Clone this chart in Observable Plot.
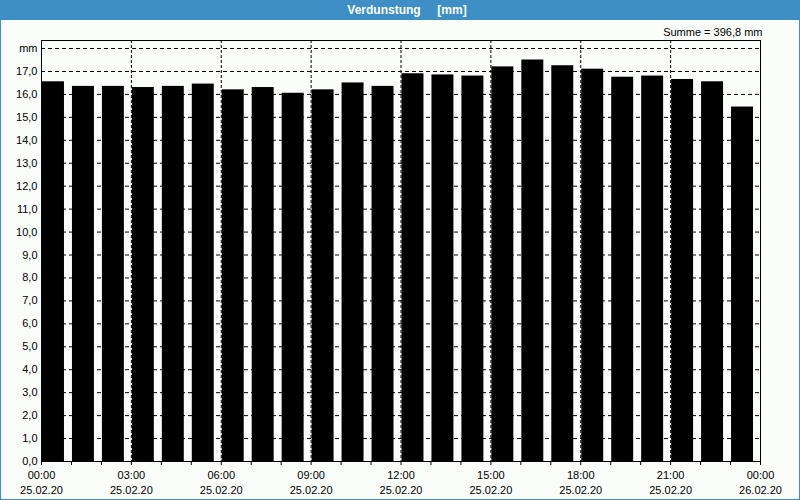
<!DOCTYPE html>
<html><head><meta charset="utf-8">
<script src="https://cdn.jsdelivr.net/npm/d3@7"></script>
<script src="https://cdn.jsdelivr.net/npm/@observablehq/plot@0.6"></script>
<style>
body{margin:0;background:#fff;}
#wrap{position:relative;width:800px;height:500px;box-sizing:border-box;border:1px solid #3d8fc6;border-top:none;background:#fafcfa;font-family:"Liberation Sans",Arial,sans-serif;}
#title{height:20px;background:#3d8fc6;color:#fff;font-weight:bold;font-size:12px;line-height:20px;text-align:center;margin:0 -1px;white-space:pre;padding-left:14px;box-sizing:border-box;}
#chart svg{display:block;}
</style></head>
<body><div id="wrap"><div id="title">Verdunstung     [mm]</div><div id="chart"></div></div>
<script>
const titleText = "Verdunstung     [mm]";
const sumText = "Summe = 396,8 mm";
const hours = [0,1,2,3,4,5,6,7,8,9,10,11,12,13,14,15,16,17,18,19,20,21,22,23];
const values = [16.55,16.35,16.35,16.3,16.35,16.45,16.2,16.3,16.05,16.2,16.5,16.35,16.9,16.85,16.8,17.2,17.5,17.25,17.1,16.75,16.8,16.65,16.55,15.45];
const xTickHours = [0,3,6,9,12,15,18,21,24];
const xTickLabels = ["00:00\n25.02.20","03:00\n25.02.20","06:00\n25.02.20","09:00\n25.02.20","12:00\n25.02.20","15:00\n25.02.20","18:00\n25.02.20","21:00\n25.02.20","00:00\n26.02.20"];
const xGridHours = [3,6,9,12,15,18,21];
const xMinorTicks = [0,1,2,3,4,5,6,7,8,9,10,11,12,13,14,15,16,17,18,19,20,21,22,23,24];
const yTicks = [0,1,2,3,4,5,6,7,8,9,10,11,12,13,14,15,16,17,18];
const yTickLabels = ["0,0","1,0","2,0","3,0","4,0","5,0","6,0","7,0","8,0","9,0","10,0","11,0","12,0","13,0","14,0","15,0","16,0","17,0","mm"];

const data = hours.map((h, i) => ({h, v: values[i]}));

const chart = Plot.plot({
  width: 798, height: 479,
  marginLeft: 40, marginRight: 39, marginTop: 20, marginBottom: 38,
  style: {background: "transparent", fontFamily: "'Liberation Sans', Arial, sans-serif", fontSize: "11px", color: "#000"},
  x: {type: "linear", domain: [0, 24]},
  y: {domain: [0, 18.35]},
  marks: [
    Plot.ruleY(yTicks.slice(1), {stroke: "#000", strokeDasharray: "4,3", strokeWidth: 1}),
    Plot.ruleX(xGridHours, {stroke: "#000", strokeDasharray: "3,2", strokeWidth: 1}),
    Plot.rectY(data, {x1: "h", x2: d => d.h + 1, y: "v", fill: "#000", insetLeft: 1, insetRight: 7}),
    Plot.frame({stroke: "#000"}),
    Plot.axisY({ticks: yTicks, tickFormat: d => yTickLabels[yTicks.indexOf(d)], tickSize: 0, tickPadding: 4, label: null}),
    Plot.axisX({ticks: xMinorTicks, tickSize: 4, tickFormat: () => "", label: null}),
    Plot.axisX({ticks: xTickHours, tickSize: 0, tickPadding: 7, tickFormat: d => xTickLabels[xTickHours.indexOf(d)], label: null, lineHeight: 1.35}),
    Plot.text([sumText], {text: d => d, frameAnchor: "top-right", textAnchor: "end", lineAnchor: "bottom", dy: -5, dx: 2})
  ]
});
document.getElementById("chart").appendChild(chart);
</script>
</body></html>
